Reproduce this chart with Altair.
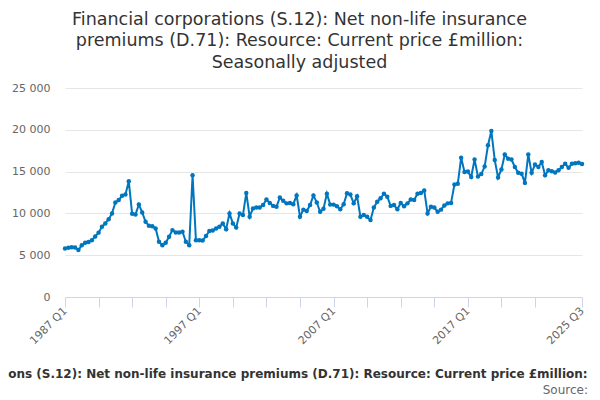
import altair as alt
import pandas as pd

values = [
    5810, 5900, 5950, 5930, 5620, 6200, 6500, 6580, 6800, 7250,
    7700, 8400, 8800, 9300, 10000, 11300, 11600, 12100, 12250, 13840,
    9950, 9870, 11060, 10110, 8990, 8510, 8470, 8200, 6600, 6200,
    6480, 7200, 8000, 7720, 7720, 7800, 6600, 6200, 14560, 6800,
    6800, 6750, 7300, 7900, 7950, 8200, 8400, 8800, 8100, 10000,
    8800, 8300, 10000, 9800, 12450, 9600, 10600, 10700, 10700, 11000,
    11650, 11250, 10900, 10800, 11900, 11500, 11200, 11250, 11100, 12150,
    9600, 10450, 10300, 11000, 12150, 11300, 10200, 10550, 12350, 11050,
    11050, 10850, 10500, 11100, 12400, 12250, 11200, 12050, 9600, 9800,
    9600, 9200, 10700, 11400, 11800, 12350, 12000, 10900, 11000, 10500,
    11250, 10850, 11200, 11650, 11600, 12350, 12450, 12750, 10000, 10800,
    10700, 10200, 10450, 10950, 11200, 11250, 13450, 13550, 16650, 14950,
    15000, 14350, 16450, 14400, 14700, 15600, 18150, 19850, 16400, 14300,
    15250, 17050, 16550, 16450, 15550, 14850, 14750, 13650, 17050, 14850,
    15850, 15550, 16150, 14550, 15150, 15050, 14900, 15150, 15550, 15950,
    15450, 15950, 16000, 16050, 15900,
]
quarters = [f"{1987 + k // 4} Q{k % 4 + 1}" for k in range(len(values))]
tick_quarters = [quarters[k] for k in range(0, 141, 10)] + [quarters[-1]]
label_quarters = ["1987 Q1", "1997 Q1", "2007 Q1", "2017 Q1", "2025 Q3"]

title_lines = [
    "Financial corporations (S.12): Net non-life insurance",
    "premiums (D.71): Resource: Current price £million:",
    "Seasonally adjusted",
]
axis_title = ("Financial corporations (S.12): Net non-life insurance premiums (D.71): "
              "Resource: Current price £million: Seasonally adjusted")

df = pd.DataFrame({"quarter": quarters, "value": values})

FONT = "DejaVu Sans"
W, H = 517, 209

label_expr = "indexof(" + str(label_quarters).replace("'", "\"") + ", datum.value) >= 0 ? datum.value : ''"

line = alt.Chart(df).mark_line(
    color="#0076BE", strokeWidth=2,
    point=alt.OverlayMarkDef(color="#0076BE", size=20, filled=True, opacity=1),
).encode(
    x=alt.X("quarter:O", sort=None,
            scale=alt.Scale(type="point", padding=0),
            axis=alt.Axis(values=tick_quarters, labelExpr=label_expr,
                          labelAngle=315, labelAlign="right", labelBaseline="middle",
                          labelPadding=2, labelFontSize=11, labelColor="#666666",
                          labelFont=FONT, tickSize=10, tickColor="#ccd6eb",
                          domainColor="#ccd6eb", grid=False, labelOverlap=False,
                          title=axis_title, titleFont=FONT, titleFontSize=12,
                          titleFontWeight="bold", titleColor="#333333",
                          titleX=239, titleY=76, titleBaseline="middle",
                          titleAnchor="middle", titleAlign="center")),
    y=alt.Y("value:Q", scale=alt.Scale(domain=[0, 25000]),
            axis=alt.Axis(values=[0, 5000, 10000, 15000, 20000, 25000],
                          labelExpr="datum.value >= 1000 ? floor(datum.value / 1000) + ' 000' : '' + datum.value",
                          labelFontSize=11, labelColor="#666666", labelFont=FONT,
                          labelPadding=15, domain=False, ticks=False,
                          gridColor="#e6e6e6", title=None)),
)

source = alt.Chart(pd.DataFrame({"t": ["Source:"]})).mark_text(
    align="right", baseline="middle", font=FONT, fontSize=12, color="#666666"
).encode(text="t:N", x=alt.value(523), y=alt.value(302))

chart = alt.layer(line, source).properties(
    width=W, height=H,
    autosize=alt.AutoSizeParams(type="none"),
    padding={"left": 57, "top": 80, "right": 10, "bottom": 101},
    title=alt.TitleParams(text=title_lines, font=FONT, fontSize=17.5,
                          fontWeight="normal", color="#333333",
                          anchor="middle", offset=11, lineHeight=21.5, dx=-24),
).configure_view(stroke=None)

chart.save("out.html", embed_options={"renderer": "svg", "actions": False})
